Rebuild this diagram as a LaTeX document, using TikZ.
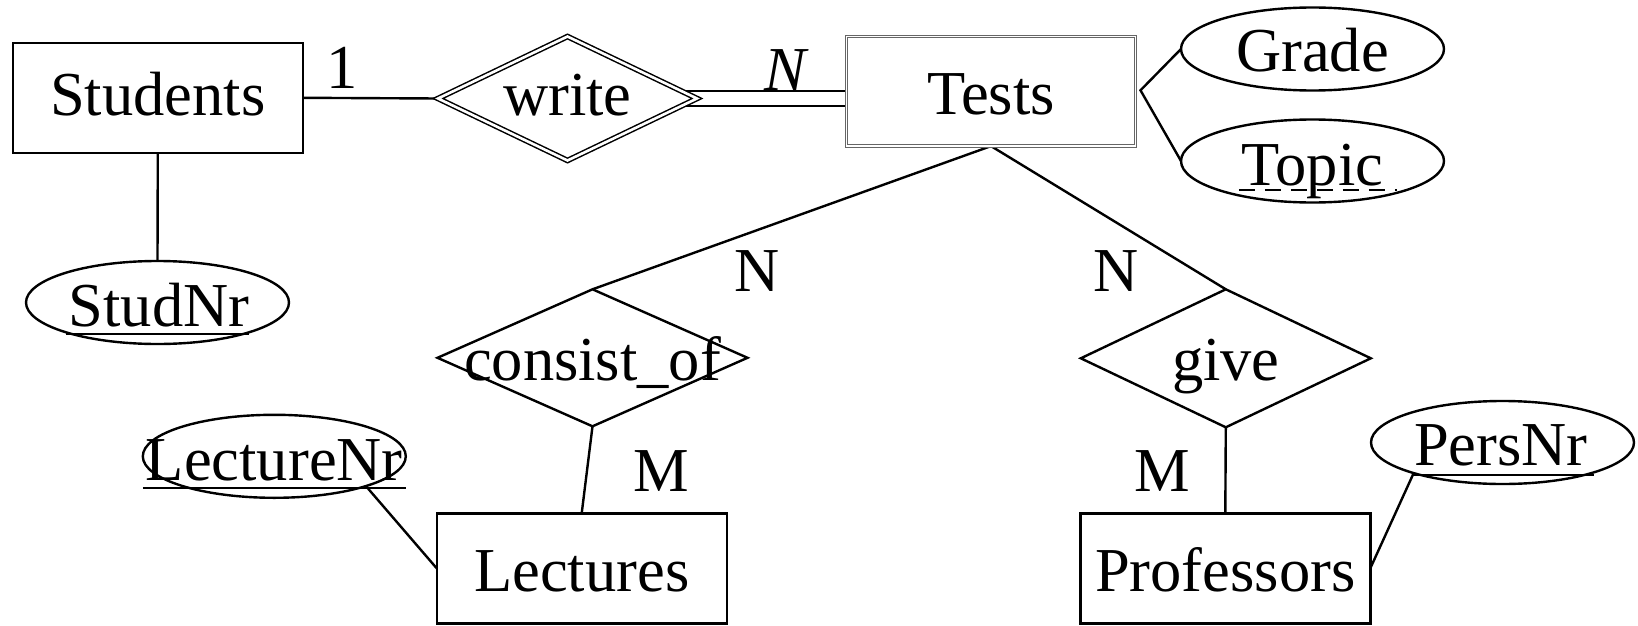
\documentclass[tikz,border=0pt]{standalone}
\usepackage{fontspec}
\setmainfont{Liberation Serif}
\usetikzlibrary{shapes.geometric,calc}
\pgfdeclarelayer{bg}
\pgfsetlayers{bg,main}
\begin{document}
\begin{tikzpicture}[x=1pt,y=-1pt,
  every node/.style={font=\fontsize{62.5pt}{70pt}\selectfont, inner sep=0pt, outer sep=0pt},
  entity/.style={draw, line width=2.4pt, rectangle, minimum width=290pt, minimum height=110pt},
  weakentity/.style={draw=black!60, line width=1pt, double, double distance=1.3pt, rectangle, minimum width=289pt, minimum height=109.6pt},
  rel/.style={draw, line width=2.4pt, diamond, fill=white},
  attr/.style={draw, line width=2.4pt, ellipse, minimum width=263pt, minimum height=83pt},
  txt/.style={anchor=base},
  conn/.style={line width=2.4pt},
  ul/.style={line width=2.8pt},
  dul/.style={line width=2.8pt, dash pattern=on 16pt off 10pt},
]
\useasboundingbox (0,0) rectangle (1638,626);

% entities
\node[entity] (students) at (157.8,97.8) {};
\node[txt] (studentst) at (157.8,115) {Students};
\node[weakentity] (tests) at (991,91.3) {};
\node[txt] (testst) at (991,114) {Tests};
\node[entity] (lectures) at (581.7,568.3) {};
\node[txt] (lecturest) at (581.7,591.7) {Lectures};
\node[entity] (profs) at (1225.3,568.3) {};
\node[txt] (profst) at (1225.3,591.7) {Professors};

% relationships
\node[rel, double, double distance=2.6pt, line width=1.5pt, minimum width=259pt, minimum height=124pt] (write) at (567.5,98.5) {};
\node[txt] (writet) at (567.5,115) {write};
\node[rel, minimum width=310pt, minimum height=137pt] (cons) at (592.5,357.8) {};
\node[txt] (const) at (592.5,380) {consist\_of};
\node[rel, minimum width=290pt, minimum height=138pt] (give) at (1225.8,358.3) {};
\node[txt] (givet) at (1225.8,380) {give};

% attributes
\node[attr] (grade) at (1312.5,49) {};
\node[txt] (gradet) at (1312.5,71.7) {Grade};
\node[attr] (topic) at (1312.5,161) {};
\node[txt] (topict) at (1312.5,185) {Topic};
\node[attr] (studnr) at (157.5,302.5) {};
\node[txt] (studnrt) at (159,326) {StudNr};
\node[attr] (lecnr) at (274.3,456.3) {};
\node[txt] (lecnrt) at (274.3,480) {LectureNr};
\node[attr] (persnr) at (1502.5,442.5) {};
\node[txt] (persnrt) at (1501,465) {PersNr};

% cardinalities
\node[txt] (c1) at (342.6,88.8) {1};
\node[txt] (cN1) at (786.5,90) {\textit{N}};
\node[txt] (cN2) at (757.3,291.7) {N};
\node[txt] (cN3) at (1115.6,291.7) {N};
\node[txt] (cM1) at (660.8,491.7) {M};
\node[txt] (cM2) at (1162,491.7) {M};

% key underlines
\draw[ul] ($(studnrt.base west)+(-3,8)$) -- ($(studnrt.base east)+(0,8)$);
\draw[ul] ($(lecnrt.base west)+(-3,8)$) -- ($(lecnrt.base east)+(3,8)$);
\draw[ul] ($(persnrt.base west)+(-2,10)$) -- ($(persnrt.base east)+(6,10)$);
\draw[dul] ($(topict.base west)+(-3,5)$) -- ($(topict.base east)+(14,5)$);

\coordinate (tj) at ($(tests.east)+(5,-1)$);

\begin{pgfonlayer}{bg}
\draw[conn] (students.east) -- (write.west);
\draw[conn, double, double distance=12.6pt] (write.center) -- (write.center -| tests.west);
\draw[conn] (grade.west) -- (tj) -- (topic.west);
\draw[conn] (students.south) -- (studnr.north);
\draw[conn] (tests.south) -- (cons.north);
\draw[conn] (tests.south) -- (give.north);
\draw[conn] (cons.south) -- (lectures.north);
\draw[conn] (give.south) -- (profs.north);
\draw[conn] (lecnr.-18) -- (lectures.west);
\draw[conn] (persnr.199) -- (profs.east);
\end{pgfonlayer}
\end{tikzpicture}
\end{document}
